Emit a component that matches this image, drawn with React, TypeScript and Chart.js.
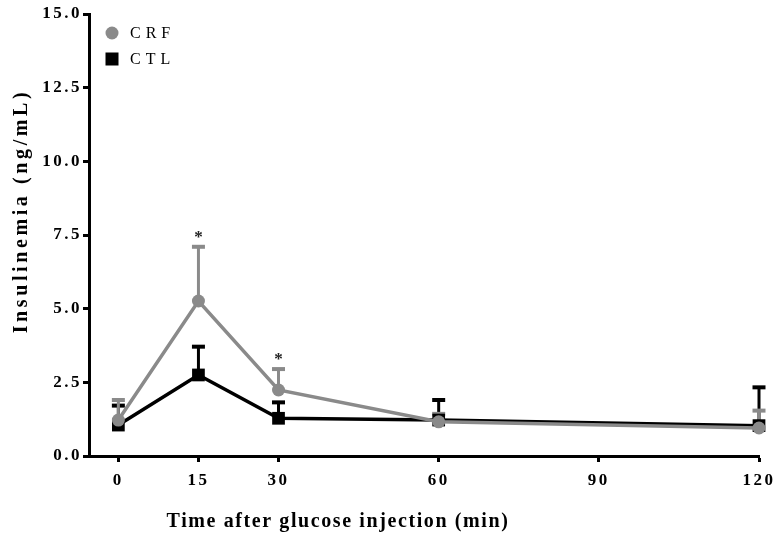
import React, { useEffect, useRef } from "react";
import { Chart, registerables } from "chart.js";

Chart.register(...registerables);

const times = [0, 15, 30, 60, 120];
const crfMean = [1.22, 5.26, 2.24, 1.16, 0.95];
const crfErr = [0.68, 1.84, 0.71, 0.27, 0.59];
const ctlMean = [1.05, 2.75, 1.28, 1.22, 1.03];
const ctlErr = [0.66, 0.96, 0.54, 0.68, 1.3];
const xTicks = [0, 15, 30, 60, 90, 120];
const significant = [false, true, true, false, false];
const seriesNames = ["CRF", "CTL"];
const xTitle = "Time after glucose injection (min)";
const yTitle = "Insulinemia (ng/mL)";

const GRAY = "#8a8a8a";
const BLACK = "#000000";

const errorBarPlugin = {
  id: "errorBars",
  beforeDatasetsDraw(chart: any) {
    const ctx = chart.ctx;
    const xs = chart.scales.x;
    const ys = chart.scales.y;
    const sets = [
      { mean: ctlMean, err: ctlErr, color: BLACK },
      { mean: crfMean, err: crfErr, color: GRAY },
    ];
    ctx.save();
    for (const s of sets) {
      ctx.strokeStyle = s.color;
      times.forEach((t, i) => {
        const x = xs.getPixelForValue(t);
        const y0 = ys.getPixelForValue(s.mean[i]);
        const y1 = ys.getPixelForValue(s.mean[i] + s.err[i]);
        ctx.lineWidth = 3;
        ctx.beginPath();
        ctx.moveTo(x, y0);
        ctx.lineTo(x, y1);
        ctx.stroke();
        ctx.lineWidth = 4;
        ctx.beginPath();
        ctx.moveTo(x - 6.5, y1);
        ctx.lineTo(x + 6.5, y1);
        ctx.stroke();
      });
    }
    ctx.restore();
  },
  afterDatasetsDraw(chart: any) {
    const ctx = chart.ctx;
    const xs = chart.scales.x;
    const ys = chart.scales.y;
    ctx.save();
    ctx.letterSpacing = "0px";
    ctx.fillStyle = "#222";
    ctx.font = "bold 17px 'Liberation Serif'";
    ctx.textAlign = "center";
    ctx.textBaseline = "middle";
    times.forEach((t, i) => {
      if (!significant[i]) return;
      const x = xs.getPixelForValue(t);
      const top = Math.max(crfMean[i] + crfErr[i], ctlMean[i] + ctlErr[i]);
      const y = ys.getPixelForValue(top) - 9;
      ctx.fillText("*", x, y);
    });
    // legend
    const markers = [GRAY, BLACK];
    ctx.font = "16px 'Liberation Serif'";
    ctx.textAlign = "left";
    ctx.letterSpacing = "5px";
    seriesNames.forEach((name, i) => {
      const cy = 33 + i * 26;
      ctx.fillStyle = markers[i];
      if (i === 0) {
        ctx.beginPath();
        ctx.arc(112, cy, 6.5, 0, Math.PI * 2);
        ctx.fill();
      } else {
        ctx.fillRect(105.5, cy - 6.5, 13, 13);
      }
      ctx.fillStyle = "#000";
      ctx.fillText(name, 130, cy + 1);
    });
    // axis titles
    ctx.fillStyle = "#000";
    ctx.font = "bold 20px 'Liberation Serif'";
    ctx.textAlign = "center";
    ctx.textBaseline = "middle";
    ctx.letterSpacing = "1.6px";
    ctx.fillText(xTitle, 338, 522);
    ctx.save();
    ctx.translate(22, 211);
    ctx.rotate(-Math.PI / 2);
    ctx.letterSpacing = "3.6px";
    ctx.fillText(yTitle, 0, 0);
    ctx.restore();
    ctx.restore();
  },
  beforeDraw(chart: any) {
    chart.ctx.letterSpacing = "2.5px";
  },
  afterDraw(chart: any) {
    chart.ctx.letterSpacing = "0px";
  },
};

export default function App() {
  const ref = useRef<HTMLCanvasElement | null>(null);
  useEffect(() => {
    document.body.style.margin = "0";
    const canvas = ref.current;
    if (!canvas) return;
    const chart = new Chart(canvas, {
      type: "line",
      data: {
        datasets: [
          {
            label: seriesNames[0],
            data: times.map((t, i) => ({ x: t, y: crfMean[i] })),
            borderColor: GRAY,
            backgroundColor: GRAY,
            borderWidth: 3.5,
            pointStyle: "circle",
            pointRadius: 6.5,
            pointBorderWidth: 0,
            tension: 0,
            clip: false,
          },
          {
            label: seriesNames[1],
            data: times.map((t, i) => ({ x: t, y: ctlMean[i] })),
            borderColor: BLACK,
            backgroundColor: BLACK,
            borderWidth: 3.5,
            pointStyle: "rect",
            pointRadius: 9,
            pointBorderWidth: 0,
            tension: 0,
            clip: false,
          },
        ],
      },
      options: {
        animation: false,
        responsive: false,
        maintainAspectRatio: false,
        layout: { padding: { top: 14, right: 17, left: 0, bottom: 0 } },
        plugins: { legend: { display: false }, tooltip: { enabled: false } },
        scales: {
          x: {
            type: "linear",
            min: -5.5,
            max: 120,
            afterBuildTicks(scale: any) {
              scale.ticks = xTicks.map((v) => ({ value: v }));
            },
            afterFit(scale: any) {
              scale.height = 80;
              scale.paddingLeft = 0;
              scale.paddingRight = 0;
            },
            grid: {
              drawOnChartArea: false,
              drawTicks: true,
              tickLength: 6,
              tickWidth: 3,
              color: "#000",
            },
            border: { display: true, width: 3, color: "#000" },
            ticks: {
              padding: 8,
              color: "#000",
              font: { family: "'Liberation Serif'", size: 17, weight: "bold" },
              maxRotation: 0,
              autoSkip: false,
            },
          },
          y: {
            type: "linear",
            min: 0,
            max: 15,
            afterFit(scale: any) {
              scale.width = 89;
              scale.paddingTop = 0;
              scale.paddingBottom = 0;
            },
            grid: {
              drawOnChartArea: false,
              drawTicks: true,
              tickLength: 6,
              tickWidth: 3,
              color: "#000",
            },
            border: { display: true, width: 3, color: "#000" },
            ticks: {
              stepSize: 2.5,
              padding: 1,
              color: "#000",
              font: { family: "'Liberation Serif'", size: 17, weight: "bold" },
              callback: (v: any) => Number(v).toFixed(1),
            },
          },
        },
      },
      plugins: [errorBarPlugin],
    } as any);
    return () => chart.destroy();
  }, []);
  return (
    <div style={{ width: 776, height: 536 }}>
      <canvas ref={ref} width={776} height={536} style={{ display: "block" }} />
    </div>
  );
}
